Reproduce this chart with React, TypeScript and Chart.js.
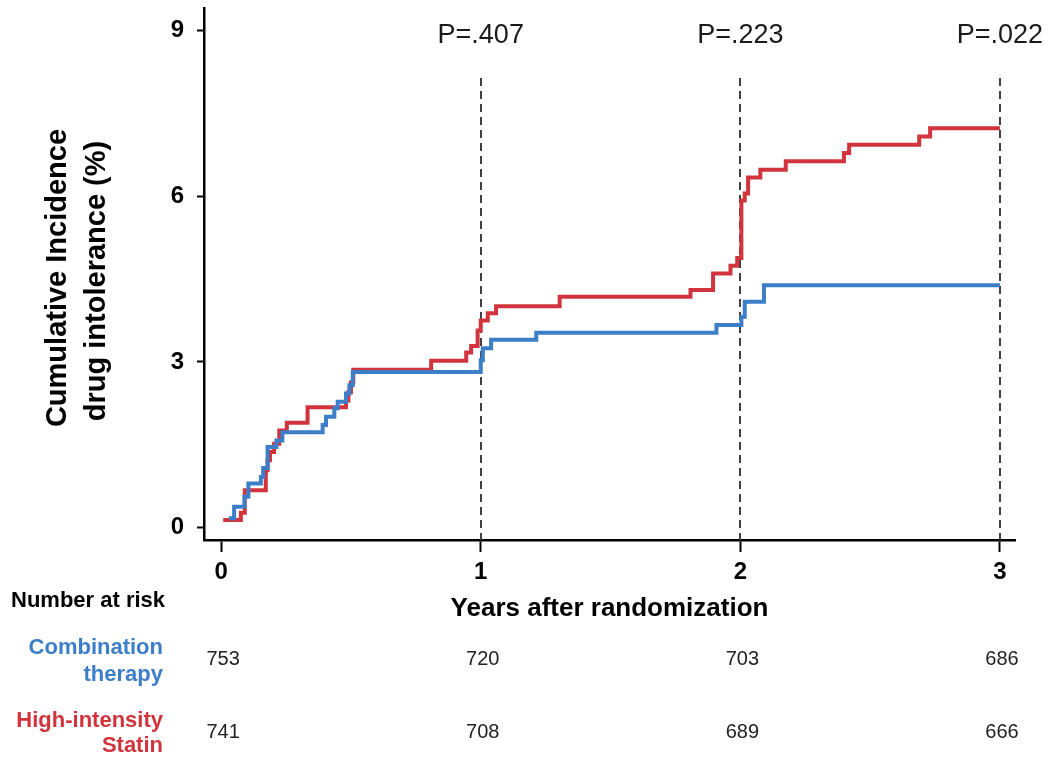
import React, { useEffect, useRef } from "react";
import { Chart, registerables } from "chart.js";

Chart.register(...registerables);

const comboTimes = [0.03, 0.05, 0.09, 0.105, 0.153, 0.162, 0.179, 0.213, 0.236, 0.391, 0.404, 0.436, 0.449, 0.481, 0.494, 0.507, 1.0, 1.008, 1.04, 1.214, 1.908, 2.004, 2.017, 2.091, 3.0];
const comboValues = [0.17, 0.38, 0.56, 0.8, 0.92, 1.08, 1.46, 1.58, 1.73, 1.86, 2.01, 2.16, 2.28, 2.43, 2.58, 2.82, 3.03, 3.25, 3.4, 3.53, 3.67, 3.82, 4.09, 4.39, 4.39];

const statinTimes = [0.008, 0.076, 0.091, 0.172, 0.179, 0.188, 0.204, 0.224, 0.253, 0.333, 0.481, 0.49, 0.5, 0.509, 0.809, 0.944, 0.963, 0.988, 1.0, 1.027, 1.059, 1.304, 1.808, 1.895, 1.962, 1.988, 2.004, 2.017, 2.03, 2.077, 2.175, 2.399, 2.419, 2.689, 2.731, 3.0];
const statinValues = [0.14, 0.27, 0.68, 1.04, 1.22, 1.37, 1.52, 1.76, 1.9, 2.18, 2.3, 2.45, 2.63, 2.86, 3.02, 3.17, 3.29, 3.57, 3.75, 3.88, 4.01, 4.18, 4.3, 4.6, 4.74, 4.88, 5.92, 6.05, 6.34, 6.48, 6.63, 6.78, 6.93, 7.08, 7.23, 7.23];

const xTicks = [0, 1, 2, 3];
const yTicks = [0, 3, 6, 9];
const pYears = [1, 2, 3];
const pLabels = ["P=.407", "P=.223", "P=.022"];
const riskYears = [0, 1, 2, 3];
const riskCombo = [753, 720, 703, 686];
const riskStatin = [741, 708, 689, 666];

const BLUE = "#3C7FC8";
const RED = "#D1343D";
const FONT = "'Liberation Sans', Arial, sans-serif";

const overlayPlugin = {
  id: "overlay",
  beforeDatasetsDraw(chart: any) {
    const { ctx, scales, chartArea } = chart;
    const x = scales.x;
    ctx.save();
    ctx.strokeStyle = "#404040";
    ctx.lineWidth = 2;
    ctx.setLineDash([8, 5]);
    pYears.forEach((yr) => {
      const px = Math.round(x.getPixelForValue(yr));
      ctx.beginPath();
      ctx.moveTo(px, 78);
      ctx.lineTo(px, chartArea.bottom);
      ctx.stroke();
    });
    ctx.restore();
  },
  afterDraw(chart: any) {
    const { ctx, scales, chartArea } = chart;
    const x = scales.x;
    ctx.save();
    ctx.fillStyle = "#1a1a1a";
    ctx.font = `27px ${FONT}`;
    ctx.textAlign = "center";
    ctx.textBaseline = "middle";
    pYears.forEach((yr, i) => {
      ctx.fillText(pLabels[i], x.getPixelForValue(yr), 36);
    });
    ctx.save();
    ctx.translate(58, 278);
    ctx.rotate(-Math.PI / 2);
    ctx.fillStyle = "#000";
    ctx.font = `bold 29px ${FONT}`;
    ctx.textAlign = "center";
    ctx.textBaseline = "middle";
    ctx.fillText("Cumulative Incidence", 0, 0);
    ctx.fillText("drug intolerance (%)", -3, 39);
    ctx.restore();
    ctx.fillStyle = "#000";
    ctx.font = `bold 26px ${FONT}`;
    ctx.textAlign = "center";
    ctx.textBaseline = "middle";
    ctx.fillText("Years after randomization", (chartArea.left + chartArea.right) / 2, 609);
    ctx.textAlign = "left";
    ctx.textBaseline = "alphabetic";
    ctx.font = `bold 22px ${FONT}`;
    ctx.fillText("Number at risk", 11, 607);
    ctx.textAlign = "right";
    ctx.fillStyle = BLUE;
    ctx.fillText("Combination", 163, 654);
    ctx.fillText("therapy", 163, 681);
    ctx.fillStyle = RED;
    ctx.fillText("High-intensity", 163, 727);
    ctx.fillText("Statin", 163, 752);
    ctx.fillStyle = "#222";
    ctx.font = `20px ${FONT}`;
    ctx.textAlign = "center";
    riskYears.forEach((yr, i) => {
      const px = x.getPixelForValue(yr) + 2;
      ctx.fillText(String(riskCombo[i]), px, 665);
      ctx.fillText(String(riskStatin[i]), px, 738);
    });
    ctx.restore();
  },
};

export default function App() {
  const ref = useRef<HTMLCanvasElement | null>(null);
  useEffect(() => {
    if (!ref.current) return;
    const chart = new Chart(ref.current, {
      type: "line",
      data: {
        datasets: [
          {
            label: "Combination therapy",
            data: comboTimes.map((t, i) => ({ x: t, y: comboValues[i] })),
            borderColor: BLUE,
            borderWidth: 4,
            pointRadius: 0,
            stepped: "before",
            fill: false,
          },
          {
            label: "High-intensity Statin",
            data: statinTimes.map((t, i) => ({ x: t, y: statinValues[i] })),
            borderColor: RED,
            borderWidth: 4,
            pointRadius: 0,
            stepped: "before",
            fill: false,
          },
        ],
      },
      options: {
        responsive: false,
        animation: false,
        devicePixelRatio: 1,
        layout: { padding: { left: 0, top: 8, right: 34, bottom: 0 } },
        plugins: { legend: { display: false }, tooltip: { enabled: false } },
        scales: {
          x: {
            type: "linear",
            min: -0.066,
            max: 3.058,
            afterFit: (s: any) => {
              s.height = 757 - 540;
              s.paddingLeft = 0;
              s.paddingRight = 0;
              s.paddingTop = 0;
              s.paddingBottom = 0;
            },
            afterBuildTicks: (s: any) => {
              s.ticks = xTicks.map((v) => ({ value: v }));
            },
            border: { display: true, color: "#000", width: 2.5 },
            grid: {
              display: true,
              drawOnChartArea: false,
              drawTicks: true,
              tickLength: 12,
              tickColor: "#000",
              tickWidth: 2,
            },
            ticks: {
              color: "#000",
              font: { family: FONT, size: 24, weight: "bold" },
              padding: 6,
              maxRotation: 0,
              callback: (v: any) => String(v),
            },
          },
          y: {
            type: "linear",
            min: -0.222,
            max: 9.405,
            afterFit: (s: any) => {
              s.width = 204;
              s.paddingLeft = 0;
              s.paddingRight = 0;
              s.paddingTop = 0;
              s.paddingBottom = 0;
            },
            afterBuildTicks: (s: any) => {
              s.ticks = yTicks.map((v) => ({ value: v }));
            },
            border: { display: true, color: "#000", width: 2.5 },
            grid: {
              display: true,
              drawOnChartArea: false,
              drawTicks: true,
              tickLength: 7,
              tickColor: "#000",
              tickWidth: 2,
            },
            ticks: {
              color: "#000",
              font: { family: FONT, size: 24, weight: "bold" },
              padding: 13,
              callback: (v: any) => String(v),
            },
          },
        },
      },
      plugins: [overlayPlugin],
    });
    return () => chart.destroy();
  }, []);
  return (
    <div style={{ position: "absolute", left: 0, top: 0, width: 1049, height: 757, background: "#fff" }}>
      <canvas ref={ref} width={1049} height={757} style={{ display: "block" }} />
    </div>
  );
}
